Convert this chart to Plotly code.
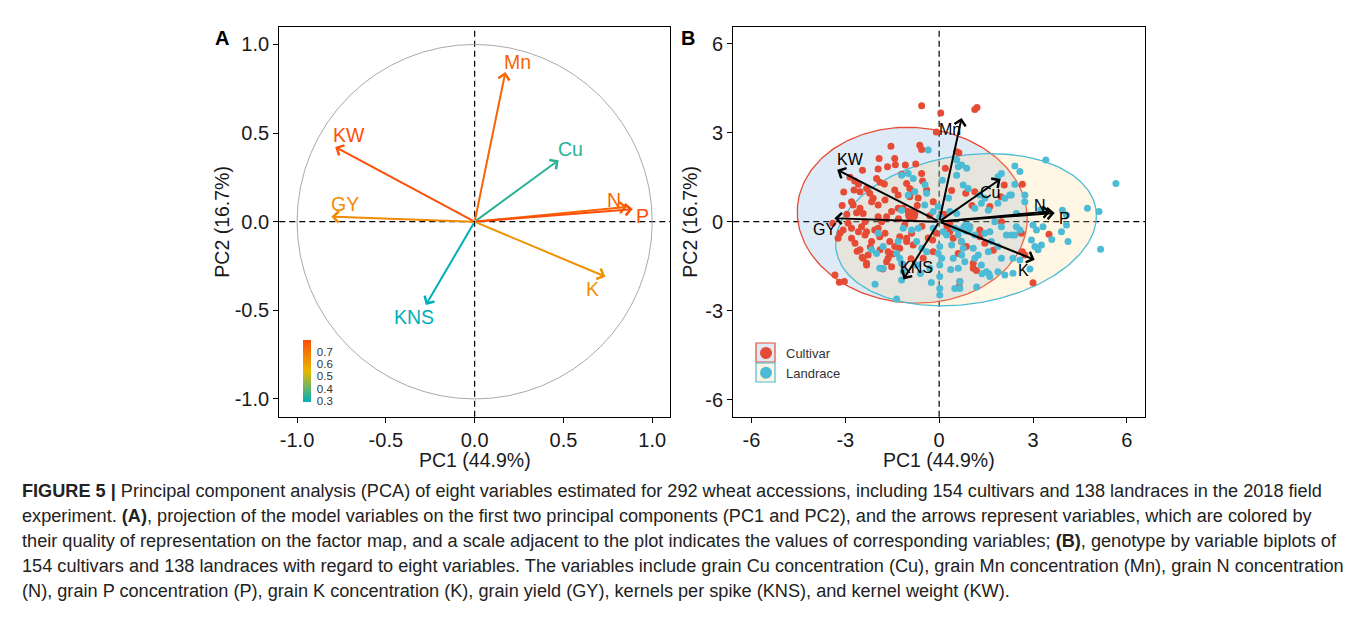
import numpy as np
import plotly.graph_objects as go
from plotly.colors import sample_colorscale

W, H = 1355, 635

# ---- variable loadings on the first two components -------------------------
variables = ["Mn", "KW", "Cu", "N", "P", "GY", "K", "KNS"]
load_pc1 = [0.173, -0.785, 0.473, 0.858, 0.890, -0.807, 0.736, -0.275]
load_pc2 = [0.844, 0.422, 0.347, 0.084, 0.071, 0.028, -0.310, -0.470]

# label nudges in pixels (x right, y up) for panel A and panel B
lab_dx_a = [12, 14, 12, -13, 10, 14, -13, -12]
lab_dy_a = [10, 12, 11, 7, -7, 13, -12, -12]
lab_dx_b = [-12, 13, -11, -11, 10, -10, -11, 13]
lab_dy_b = [-12, 10, -13, 6, -6, -11, -11, 12]

# loadings are stretched by this factor in the genotype biplot
biplot_scale = 4.15

# ---- individual scores -----------------------------------------------------
cultivar_pc1 = [
    -0.56, 0.05, 1.14, 1.21, -0.09, -0.62, -0.56, -1.54, 0.63, -1.92, -1.42, -1.40, -1.08,
    -1.95, -2.45, -2.00, -1.89, -1.75, -0.56, -0.53, 0.20, -2.70, -2.58, -2.72, -2.53, -2.32,
    -2.22, -2.11, -2.80, -2.75, -2.53, -2.43, -2.64, -2.16, -1.95, -1.73, -1.31, -1.52, -1.42,
    -1.31, -1.04, -0.94, -0.83, -0.94, -0.40, -0.19, -0.99, -0.85, -1.15, -0.78, -1.95, -1.84,
    -1.68, -2.37, -2.48, -2.32, -2.91, -2.80, -2.58, -2.37, -3.07, -3.17, -3.23, -1.95, -1.73,
    -2.16, -2.06, -1.90, -2.80, -2.69, -2.53, -2.62, -2.27, -2.43, -2.32, -1.89, -1.63, -1.63,
    -1.26, -1.58, -1.42, -1.49, -1.26, -1.04, -0.88, -1.04, -0.83, -0.19, -0.51, -1.68, -1.52,
    -3.33, -3.19, -3.03, -2.46, -2.32, -0.09, -0.21, 0.34, 0.34, 0.45, 0.66, 0.64, 0.71, 0.87,
    1.30, 1.46, 1.09, 1.19, 1.73, 1.09, 0.61, 0.56, 0.85, 1.14, 2.08, 1.97, 1.62, 0.98, 1.30,
    1.99, 2.66, 2.63, 3.51, 2.66, 2.74, 3.00, -0.67, -0.30, -0.55, -1.10, -1.30, -0.70, -2.20,
    -1.80, -0.90, -1.15, -0.35, 0.25, 0.15, -3.40, -3.10, -2.95, -3.05, -2.85, -1.65, -1.20,
    -0.75, 0.40, 1.05,
]
cultivar_pc2 = [
    3.91, 3.67, 3.79, 3.85, 3.03, 2.58, 2.44, 2.55, 2.33, 2.13, 2.13, 1.92, 1.91,
    1.78, 1.74, 1.46, 1.33, 1.27, 1.63, 1.37, 1.80, 1.37, 1.26, 1.07, 1.01, 1.12,
    0.96, 0.79, 0.67, 0.56, 0.45, 0.28, 0.30, 0.67, 0.56, 0.73, 0.45, 0.34, 1.07,
    0.90, 1.29, 1.12, 1.01, 0.84, 1.07, 0.67, 0.34, 0.15, 0.45, 0.28, 0.17, 0.00,
    0.17, 0.00, -0.17, -0.34, -0.05, -0.22, -0.34, -0.45, -0.28, -0.39, -0.56, -0.22, -0.39,
    -0.67, -0.28, -0.51, -0.56, -0.73, -0.95, -1.00, -1.12, -1.23, -1.40, -0.95, -1.01, -1.23,
    -0.90, -0.67, -0.84, -1.09, -0.51, -0.67, -0.39, -0.56, -0.79, -1.01, -1.23, -1.35, -1.52,
    -1.80, -2.04, -2.02, -1.20, -1.46, -0.39, -0.62, -0.05, -0.34, -0.56, -2.02, -2.19, -0.67, -0.84,
    -0.51, -0.73, -1.57, -1.65, -0.96, -1.40, -1.07, 2.36, 0.96, 1.01, 1.24, 0.84, 0.51, -0.17, -0.28,
    0.00, 1.26, -0.39, -0.42, -1.01, -1.12, -2.06, 0.80, 0.20, -0.15, -0.10, 0.10, 0.55, -0.85,
    -1.60, -1.25, -1.45, -0.55, -0.15, 0.25, -0.05, 0.55, 0.25, 1.00, 1.50, 1.85, 1.60,
    1.95, 1.05, 0.55,
]
landrace_pc1 = [
    -0.35, -1.20, -0.99, -0.83, 0.61, 0.56, -0.99, -0.78, -0.40, -0.46, -0.19, -0.03, 0.02,
    0.34, 0.56, -1.15, -0.88, -0.67, -0.19, 0.13, 0.24, 0.50, 0.61, -0.72, -0.56, -0.40,
    0.02, -0.03, 0.08, 0.02, 0.45, 0.40, -0.30, -0.72, -1.15, -1.20, 0.02, 0.02, 0.02,
    0.56, 0.72, 0.88, 1.99, 1.88, 0.77, 0.93, 1.30, 1.46, 1.35, 1.14, 1.57, 1.88, 2.10,
    2.26, 0.61, 1.14, 1.46, 1.62, 1.78, 1.99, 2.15, 0.72, 0.77, 0.72, 0.82, 0.61, 0.66,
    0.66, 1.09, 1.25, 1.14, 1.35, 1.51, 1.62, 1.57, 1.67, 1.88, 1.99, 2.31, 1.88, 2.10,
    1.37, 1.59, 3.41, 2.42, 2.58, 2.42, 2.31, 2.74, 2.74, 2.47, 2.47, 2.58, 2.42, 3.00,
    3.11, 3.32, 2.95, 3.06, 3.27, 3.16, 3.94, 3.91, 4.12, 2.36, 2.58, 2.36, 5.65, 4.74,
    5.11, 5.16, 4.07, 4.07, -1.20, -2.16, -2.00, -1.79, -1.31, -1.36, -1.26, -1.20, -1.79,
    -2.05, -1.36, -1.95, -1.90, -0.60, -0.25, 0.37, 0.50, 1.20, 0.30, 0.10, -0.45, 3.25,
    3.60, 2.90,
]
landrace_pc2 = [
    2.42, 1.57, 1.63, 1.46, 1.85, 1.57, 0.90, 1.01, 0.96, 0.56, 0.34, 0.51, 0.17,
    0.34, 0.28, -0.22, -0.28, -0.22, -0.22, -0.34, -0.45, -0.22, -0.45, -0.67, -0.90, -1.01,
    -0.84, -1.07, -1.23, -1.46, -1.23, -0.79, -1.57, -1.46, -1.68, -1.97, -1.85, -2.25, -2.47,
    2.08, 1.91, 1.80, 1.63, 1.52, 1.24, 1.12, 0.90, 0.79, 0.62, 0.45, 0.39, 0.62, 0.79,
    0.90, -0.28, -0.45, -0.39, -0.34, 0.00, -0.17, -0.45, -0.67, -0.90, -1.12, -1.35, -1.57, -2.02,
    -2.25, -0.90, -1.12, -1.23, -1.46, -1.69, -1.85, -1.01, -0.67, -0.84, -1.23, -0.45, -1.69, -1.80,
    -1.76, -1.76, 2.08, 1.88, 1.69, 1.26, 0.90, 0.90, 0.67, 0.28, -0.17, -0.28, -0.45, -0.11,
    -0.28, -0.17, -0.62, -0.84, -0.79, -0.95, 0.39, -0.34, -0.67, -1.23, -1.29, -1.74, 1.29, 0.45,
    0.34, -0.93, -0.11, 0.23, 0.39, -0.95, -1.07, -0.84, -0.67, -1.07, -1.23, -1.40, -1.57,
    -2.11, -2.61, -0.39, -1.57, -1.75, -2.05, -1.61, -2.25, -2.20, 0.80, 1.40, 1.25, 0.40,
    -0.60, -1.60,
]

# group centroids
groups = ["Cultivar", "Landrace"]
mean_pc1 = [-0.88, 0.88]
mean_pc2 = [0.22, -0.22]

# concentration ellipses: centre, semi-axes and tilt (degrees)
ell_cx = [-0.86, 0.86]
ell_cy = [0.22, -0.27]
ell_a = [3.68, 4.21]
ell_b = [2.96, 2.50]
ell_tilt = [-5.0, 10.0]

group_line = ["#E64B35", "#4DBBD5"]
group_fill = ["rgba(90,150,210,0.20)", "rgba(255,215,130,0.22)"]

# quality-of-representation gradient
cos2_scale = [[0.0, "#00AFBB"], [0.5, "#E7B800"], [1.0, "#FC4E07"]]

caption_lines = [
    "<b>FIGURE 5 |</b> Principal component analysis (PCA) of eight variables estimated for 292 wheat accessions, including 154 cultivars and 138 landraces in the 2018 field",
    "experiment. <b>(A)</b>, projection of the model variables on the first two principal components (PC1 and PC2), and the arrows represent variables, which are colored by",
    "their quality of representation on the factor map, and a scale adjacent to the plot indicates the values of corresponding variables; <b>(B)</b>, genotype by variable biplots of",
    "154 cultivars and 138 landraces with regard to eight variables. The variables include grain Cu concentration (Cu), grain Mn concentration (Mn), grain N concentration",
    "(N), grain P concentration (P), grain K concentration (K), grain yield (GY), kernels per spike (KNS), and kernel weight (KW).",
]

FONT = "Liberation Sans, Arial, sans-serif"
INK = "#1a1a1a"

# ---- derived quantities ----------------------------------------------------
cos2 = [x * x + y * y for x, y in zip(load_pc1, load_pc2)]
cmin, cmax = min(cos2), max(cos2)
arrow_cols = sample_colorscale(cos2_scale, [(c - cmin) / (cmax - cmin) for c in cos2])

def px_x(x0, x1):
    return [x0 / W, x1 / W]

def px_y(top, bottom):
    return [1 - bottom / H, 1 - top / H]

dom_ax = px_x(279.3, 670.0)
dom_bx = px_x(733.3, 1145.0)
dom_y = px_y(26.7, 416.7)

fig = go.Figure()

# panel A: invisible carrier for the cos2 colour bar
fig.add_trace(go.Scatter(
    x=load_pc1, y=load_pc2, mode="markers", xaxis="x", yaxis="y",
    marker=dict(size=1, opacity=0, color=cos2, colorscale=cos2_scale, cmin=cmin, cmax=cmax,
                showscale=True,
                colorbar=dict(x=303 / W, xanchor="left", y=1 - 370.6 / H, yanchor="middle",
                              len=61.5, lenmode="pixels", thickness=8, outlinewidth=0,
                              xpad=0, ypad=0, ticks="outside", ticklen=4,
                              tickcolor="rgba(0,0,0,0)",
                              tickvals=[0.3, 0.4, 0.5, 0.6, 0.7],
                              ticktext=["0.3", "0.4", "0.5", "0.6", "0.7"],
                              tickfont=dict(size=11.5, color="#333333", family=FONT))),
    hoverinfo="skip", showlegend=False))

# panel B: ellipses
t = np.linspace(0, 2 * np.pi, 241)
for k in range(2):
    th = np.deg2rad(ell_tilt[k])
    ex = ell_cx[k] + ell_a[k] * np.cos(t) * np.cos(th) - ell_b[k] * np.sin(t) * np.sin(th)
    ey = ell_cy[k] + ell_a[k] * np.cos(t) * np.sin(th) + ell_b[k] * np.sin(t) * np.cos(th)
    fig.add_trace(go.Scatter(x=ex, y=ey, mode="lines", fill="toself", fillcolor=group_fill[k],
                             line=dict(color=group_line[k], width=1.3), xaxis="x2", yaxis="y2",
                             hoverinfo="skip", showlegend=False))

# panel B: individuals
for k, (gx, gy) in enumerate([(cultivar_pc1, cultivar_pc2), (landrace_pc1, landrace_pc2)]):
    fig.add_trace(go.Scatter(x=gx, y=gy, mode="markers", xaxis="x2", yaxis="y2",
                             marker=dict(size=7, color=group_line[k], line=dict(width=0)),
                             name=groups[k], showlegend=False))
    fig.add_trace(go.Scatter(x=[mean_pc1[k]], y=[mean_pc2[k]], mode="markers", xaxis="x2", yaxis="y2",
                             marker=dict(size=13, color=group_line[k], line=dict(width=0)),
                             showlegend=False, hoverinfo="skip"))

# legend entries
for k in range(2):
    fig.add_trace(go.Scatter(x=[None], y=[None], mode="markers", xaxis="x2", yaxis="y2",
                             marker=dict(size=12, color=group_line[k]), name=groups[k],
                             showlegend=True))

annotations = []
# arrows and labels
for i, v in enumerate(variables):
    xa, ya = load_pc1[i], load_pc2[i]
    annotations.append(dict(x=xa, y=ya, ax=0, ay=0, xref="x", yref="y", axref="x", ayref="y",
                            text="", showarrow=True, arrowhead=4, arrowsize=1.1, arrowwidth=2,
                            arrowcolor=arrow_cols[i]))
    annotations.append(dict(x=xa, y=ya, xref="x", yref="y", text=v, showarrow=False,
                            xshift=lab_dx_a[i], yshift=lab_dy_a[i],
                            font=dict(size=19.5, color=arrow_cols[i], family=FONT)))
    xb, yb = biplot_scale * xa, biplot_scale * ya
    annotations.append(dict(x=xb, y=yb, ax=0, ay=0, xref="x2", yref="y2", axref="x2", ayref="y2",
                            text="", showarrow=True, arrowhead=4, arrowsize=1.1, arrowwidth=2,
                            arrowcolor="black"))
    annotations.append(dict(x=xb, y=yb, xref="x2", yref="y2", text=v, showarrow=False,
                            xshift=lab_dx_b[i], yshift=lab_dy_b[i],
                            font=dict(size=16, color="black", family=FONT)))

# panel letters and axis titles
for letter, xp in (("A", 222), ("B", 688)):
    annotations.append(dict(x=xp / W, y=1 - 38 / H, xref="paper", yref="paper", text=f"<b>{letter}</b>",
                            xanchor="center", yanchor="middle", showarrow=False,
                            font=dict(size=20, color="black", family=FONT)))
for cx in ((dom_ax[0] + dom_ax[1]) / 2, (dom_bx[0] + dom_bx[1]) / 2):
    annotations.append(dict(x=cx, y=1 - 460 / H, xref="paper", yref="paper", text="PC1 (44.9%)",
                            xanchor="center", yanchor="middle", showarrow=False,
                            font=dict(size=19.5, color=INK, family=FONT)))
for xp in (222, 690):
    annotations.append(dict(x=xp / W, y=(dom_y[0] + dom_y[1]) / 2, xref="paper", yref="paper",
                            text="PC2 (16.7%)", textangle=-90, xanchor="center", yanchor="middle",
                            showarrow=False, font=dict(size=19.5, color=INK, family=FONT)))

# caption
for j, line in enumerate(caption_lines):
    annotations.append(dict(x=20 / W, y=1 - (491 + 25 * j) / H, xref="paper", yref="paper",
                            xanchor="left", yanchor="middle", text=line, showarrow=False,
                            font=dict(size=18.15, color="#222222", family=FONT)))

dash = "6px,4px"
shapes = [
    dict(type="circle", xref="x", yref="y", x0=-1, x1=1, y0=-1, y1=1,
         line=dict(color="#A9A9A9", width=1), layer="below"),
]
for xr, yr in (("x", "y"), ("x2", "y2")):
    shapes.append(dict(type="line", xref=xr, yref=yr + " domain", x0=0, x1=0, y0=0, y1=1,
                       line=dict(color="black", width=1.2, dash=dash), layer="below"))
    shapes.append(dict(type="line", xref=xr + " domain", yref=yr, x0=0, x1=1, y0=0, y1=0,
                       line=dict(color="black", width=1.2, dash=dash), layer="below"))

# legend key boxes
for k in range(2):
    top = 343 + 20 * k
    shapes.append(dict(type="rect", xref="paper", yref="paper", x0=756 / W, x1=775 / W,
                       y0=1 - (top + 19) / H, y1=1 - top / H,
                       line=dict(color=group_line[k], width=1.2), fillcolor=group_fill[k],
                       layer="below"))

axis_common = dict(showgrid=False, zeroline=False, showline=True, mirror=True, linecolor="black",
                   linewidth=1.3, ticks="outside", ticklen=5, tickwidth=1, tickcolor="black",
                   tickfont=dict(size=20, color=INK, family=FONT))

fig.update_layout(
    width=W, height=H, margin=dict(l=0, r=0, t=0, b=0),
    paper_bgcolor="white", plot_bgcolor="white",
    font=dict(family=FONT),
    xaxis=dict(domain=dom_ax, range=[-1.1, 1.1], tickvals=[-1, -0.5, 0, 0.5, 1],
               ticktext=["-1.0", "-0.5", "0.0", "0.5", "1.0"], anchor="y", **axis_common),
    yaxis=dict(domain=dom_y, range=[-1.1, 1.1], tickvals=[-1, -0.5, 0, 0.5, 1],
               ticktext=["-1.0", "-0.5", "0.0", "0.5", "1.0"], anchor="x", **axis_common),
    xaxis2=dict(domain=dom_bx, range=[-6.58, 6.58], tickvals=[-6, -3, 0, 3, 6],
                ticktext=["-6", "-3", "0", "3", "6"], anchor="y2", **axis_common),
    yaxis2=dict(domain=dom_y, range=[-6.58, 6.58], tickvals=[-6, -3, 0, 3, 6],
                ticktext=["-6", "-3", "0", "3", "6"], anchor="x2", **axis_common),
    legend=dict(x=746 / W, y=1 - 338 / H, xanchor="left", yanchor="top", bgcolor="rgba(0,0,0,0)",
                font=dict(size=13, color="#333333", family=FONT), itemsizing="trace",
                tracegroupgap=0),
    annotations=annotations,
    shapes=shapes,
)

fig.write_html("out.html")
